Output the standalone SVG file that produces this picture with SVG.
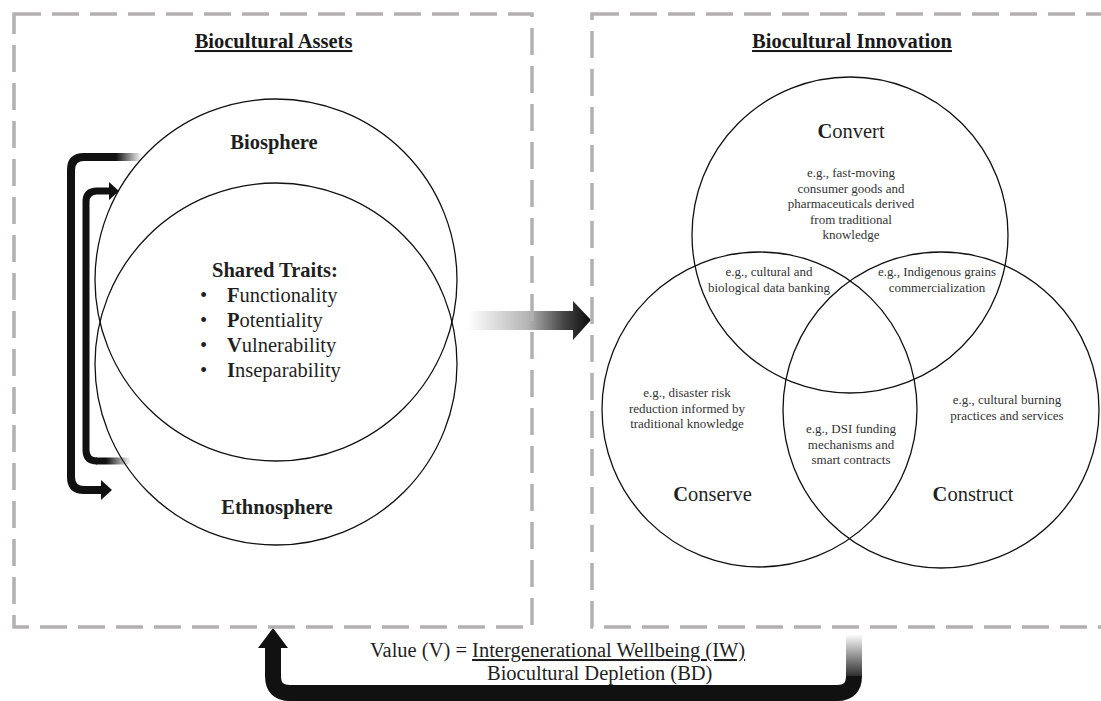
<svg xmlns="http://www.w3.org/2000/svg" width="1101" height="701" viewBox="0 0 1101 701">
  <defs>
    <style>
      .box { fill: none; stroke: #b3b0b0; stroke-width: 3.5; stroke-dasharray: 27 11; }
      .circ { fill: none; stroke: #111; stroke-width: 1.3; }
      .title { font-family: "Liberation Serif", "Times New Roman", serif; font-weight: bold; font-size: 20.5px; fill: #1a1a1a; text-anchor: middle; text-decoration: underline; }
      .big { font-family: "Liberation Serif", "Times New Roman", serif; font-size: 20.5px; fill: #1f1f1f; }
      .bold { font-weight: bold; }
      .mid { text-anchor: middle; }
      .small { font-family: "Liberation Serif", "Times New Roman", serif; font-size: 13px; fill: #333; text-anchor: middle; }
      .conn { fill: none; stroke: #111; stroke-linecap: butt; stroke-linejoin: round; }
      .head { fill: #111; stroke: none; }
    </style>
    <linearGradient id="gMain" gradientUnits="userSpaceOnUse" x1="468" y1="0" x2="588" y2="0">
      <stop offset="0" stop-color="#ffffff"/>
      <stop offset="0.5" stop-color="#b4b4b4"/>
      <stop offset="0.8" stop-color="#444"/>
      <stop offset="1" stop-color="#111"/>
    </linearGradient>
    <linearGradient id="gOuter" gradientUnits="userSpaceOnUse" x1="116" y1="0" x2="142" y2="0">
      <stop offset="0" stop-color="#111"/>
      <stop offset="1" stop-color="#fff"/>
    </linearGradient>
    <linearGradient id="gInner" gradientUnits="userSpaceOnUse" x1="106" y1="0" x2="131" y2="0">
      <stop offset="0" stop-color="#111"/>
      <stop offset="1" stop-color="#fff"/>
    </linearGradient>
    <linearGradient id="gBottom" gradientUnits="userSpaceOnUse" x1="0" y1="634" x2="0" y2="682">
      <stop offset="0" stop-color="#fff"/>
      <stop offset="1" stop-color="#111"/>
    </linearGradient>
  </defs>
  <rect width="1101" height="701" fill="#fff"/>

  <g id="connectors">
    <!-- main arrow between boxes -->
    <path d="M468,311 H573 V301 L591,320 L573,340 V330 H468 Z" fill="url(#gMain)"/>
    <!-- outer bracket arrow -->
    <line x1="99" y1="157" x2="142" y2="157" stroke="url(#gOuter)" stroke-width="8"/>
    <path class="conn" stroke-width="8" d="M100,157 H84 Q71,157 71,170 V477 Q71,490 84,490 H102"/>
    <polygon class="head" points="101,480 112,490 101,500"/>
    <!-- inner bracket arrow -->
    <line x1="96" y1="461" x2="131" y2="461" stroke="url(#gInner)" stroke-width="7"/>
    <path class="conn" stroke-width="7" d="M97,461 H97 Q86,461 86,450 V202 Q86,191 97,191 H110"/>
    <polygon class="head" points="109,182 119,191 109,200"/>
    <!-- bottom feedback arrow -->
    <line x1="854" y1="634" x2="854" y2="677" stroke="url(#gBottom)" stroke-width="16"/>
    <path class="conn" stroke-width="16" d="M854,676 Q854,693 837,693 H290 Q273,693 273,676 V646"/>
    <polygon class="head" points="258,648 273,628 288,648"/>
  </g>

  <g id="box-assets">
    <rect class="box" x="14" y="14" width="518" height="613"/>
    <text class="title" x="273.5" y="48">Biocultural Assets</text>
  </g>
  <g id="box-innovation">
    <rect class="box" x="592" y="14" width="530" height="613"/>
    <text class="title" x="852" y="48">Biocultural Innovation</text>
  </g>

  <g id="biosphere">
    <circle class="circ" cx="276" cy="280" r="181"/>
    <text class="big bold mid" x="274" y="149">Biosphere</text>
  </g>
  <g id="ethnosphere">
    <circle class="circ" cx="276" cy="364" r="181"/>
    <text class="big bold mid" x="277" y="514">Ethnosphere</text>
  </g>
  <g id="shared-traits">
    <text class="big bold mid" x="275" y="277">Shared Traits:</text>
    <text class="big" x="200" y="302">•</text>
    <text class="big" x="227" y="302"><tspan class="bold">F</tspan>unctionality</text>
    <text class="big" x="200" y="327">•</text>
    <text class="big" x="227" y="327"><tspan class="bold">P</tspan>otentiality</text>
    <text class="big" x="200" y="352">•</text>
    <text class="big" x="227" y="352"><tspan class="bold">V</tspan>ulnerability</text>
    <text class="big" x="200" y="377">•</text>
    <text class="big" x="227" y="377"><tspan class="bold">I</tspan>nseparability</text>
  </g>

  <g id="convert">
    <circle class="circ" cx="850" cy="235" r="158"/>
    <text class="big mid" x="851" y="138"><tspan class="bold">C</tspan>onvert</text>
    <text class="small" x="851" y="177">e.g., fast-moving</text>
    <text class="small" x="851" y="192.5">consumer goods and</text>
    <text class="small" x="851" y="208">pharmaceuticals derived</text>
    <text class="small" x="851" y="223.5">from traditional</text>
    <text class="small" x="851" y="239">knowledge</text>
  </g>
  <g id="conserve">
    <circle class="circ" cx="759.5" cy="409.5" r="157.5"/>
    <text class="big mid" x="712.5" y="501"><tspan class="bold">C</tspan>onserve</text>
    <text class="small" x="687" y="397">e.g., disaster risk</text>
    <text class="small" x="687" y="412.5">reduction informed by</text>
    <text class="small" x="687" y="428">traditional knowledge</text>
  </g>
  <g id="construct">
    <circle class="circ" cx="941" cy="410" r="158"/>
    <text class="big mid" x="973" y="501"><tspan class="bold">C</tspan>onstruct</text>
    <text class="small" x="1007" y="404">e.g., cultural burning</text>
    <text class="small" x="1007" y="419.5">practices and services</text>
  </g>
  <g id="convert-conserve">
    <text class="small" x="769" y="276">e.g., cultural and</text>
    <text class="small" x="769" y="291.5">biological data banking</text>
  </g>
  <g id="convert-construct">
    <text class="small" x="937" y="276">e.g., Indigenous grains</text>
    <text class="small" x="937" y="291.5">commercialization</text>
  </g>
  <g id="all-three">
    <text class="small" x="851" y="433">e.g., DSI funding</text>
    <text class="small" x="851" y="448.5">mechanisms and</text>
    <text class="small" x="851" y="464">smart contracts</text>
  </g>

  <g id="value-formula">
    <text class="big" x="370" y="657">Value (V) = <tspan text-decoration="underline">Intergenerational Wellbeing (IW)</tspan></text>
    <text class="big" x="487" y="680">Biocultural Depletion (BD)</text>
  </g>
</svg>
